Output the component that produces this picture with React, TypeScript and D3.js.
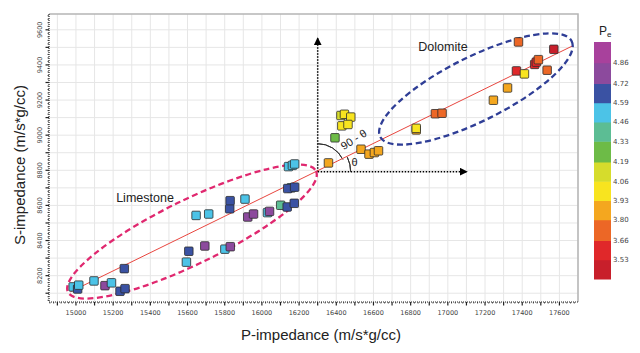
import React from "react";
import * as d3 from "d3";

// ---- data ----
const pImpedance = [
  14985, 15009, 15015, 15097, 15156, 15191, 15237, 15264, 15260, 15594, 15607, 15646,
  15714, 15693, 15801, 15830, 15827, 15829, 15909, 15924, 15955, 16030, 16041, 16101,
  16136, 16174, 16157, 16139, 16176, 16143, 16164, 16176,
  16358, 16393, 16425, 16444, 16478, 16430, 16463, 16533, 16576, 16605, 16627, 16830,
  16830, 16933, 16969, 17245, 17321, 17369, 17412, 17380, 17467, 17476, 17487, 17534, 17570,
];
const sImpedance = [
  8136, 8124, 8146, 8170, 8143, 8159, 8111, 8126, 8240, 8277, 8339, 8543,
  8551, 8369, 8351, 8365, 8581, 8627, 8636, 8534, 8551, 8559, 8566, 8601,
  8591, 8612, 8700, 8696, 8704, 8821, 8828, 8836,
  8842, 8985, 9112, 9119, 9103, 9053, 9061, 8920, 8892, 8901, 8911, 9030,
  9039, 9122, 9125, 9199, 9269, 9366, 9349, 9531, 9403, 9416, 9430, 9370, 9489,
];
const peValues = [
  4.52, 4.65, 4.52, 4.52, 4.8, 4.52, 4.65, 4.65, 4.65, 4.52, 4.65, 4.52,
  4.52, 4.8, 4.52, 4.8, 4.65, 4.65, 4.52, 4.8, 4.8, 4.52, 4.8, 4.4,
  4.65, 4.65, 4.52, 4.65, 4.65, 4.52, 4.52, 4.52,
  3.86, 4.25, 4.12, 4.0, 4.0, 4.0, 4.0, 3.86, 3.86, 3.86, 3.86, 3.86,
  3.98, 3.72, 3.72, 3.86, 3.86, 3.6, 3.98, 3.72, 3.6, 3.6, 3.72, 3.72, 3.47,
];

const peThresholds = [3.53, 3.66, 3.8, 3.93, 4.06, 4.19, 4.33, 4.46, 4.59, 4.72, 4.86];
const peColors = [
  "#c81f2b", "#e0282a", "#ec6726", "#f4a71f", "#f8e41f", "#d6dc2c",
  "#6dbb47", "#5cbd94", "#4cc3e7", "#3a52a3", "#8c4a9d", "#a8419c",
];
const peExtent = [3.4, 5.0];
const peTickLabels = ["3.53", "3.66", "3.80", "3.93", "4.06", "4.19", "4.33", "4.46", "4.59", "4.72", "4.86"];

const xDomain = [14855, 17700];
const yDomain = [8050, 9690];
const xTicks = d3.range(15000, 17601, 200);
const yTicks = d3.range(8200, 9601, 200);
const xGrid = d3.range(14900, 17701, 100);
const yGrid = d3.range(8100, 9601, 100);

// trend line & reference axes (data space)
const fitP = [14970, 17670];
const fitS = [8108, 9508];
const origin = [16300, 8792];
const arrowEnds = { up: 9553, right: 17103 };

// enclosing ellipses: center in data space, radii in px, angle in degrees
const ellipses = [
  { name: "Limestone", cx: 15624, cy: 8451, rx: 138, ry: 32, angle: -26, color: "#e0286f" },
  { name: "Dolomite", cx: 17151, cy: 9263, rx: 107, ry: 32, angle: -26.5, color: "#2f3e96" },
];

export default function App() {
  const W = 640, H = 353;
  const L = 49, R = 578, T = 14, B = 302;
  const x = d3.scaleLinear().domain(xDomain).range([L, R]);
  const y = d3.scaleLinear().domain(yDomain).range([B, T]);
  const color = d3.scaleThreshold<number, string>().domain(peThresholds).range(peColors);
  const cb = d3.scaleLinear().domain(peExtent).range([279, 42]);

  const xMinor = d3.range(14860, 17700, 20);
  const yMinor = d3.range(8060, 9690, 20);

  const ox = x(origin[0]), oy = y(origin[1]);
  const lineAng = Math.atan2(-(y(fitS[1]) - y(fitS[0])), x(fitP[1]) - x(fitP[0]));
  const arc1 = d3.arc()({ innerRadius: 28, outerRadius: 28, startAngle: 0, endAngle: Math.PI / 2 - lineAng } as any);
  const arc2 = d3.arc()({ innerRadius: 33, outerRadius: 33, startAngle: Math.PI / 2 - lineAng, endAngle: Math.PI / 2 } as any);

  const sq = 8.5;
  const tickFont = "DejaVu Sans, Verdana, sans-serif";
  const labelFont = "Liberation Sans, Arial, sans-serif";

  return (
    <svg width={W} height={H} style={{ position: "absolute", left: 0, top: 0, background: "#fff" }}
      xmlns="http://www.w3.org/2000/svg">
      <defs>
        <marker id="arrow" viewBox="0 0 10 10" refX="9" refY="5" markerWidth="8" markerHeight="8"
          orient="auto" markerUnits="userSpaceOnUse">
          <path d="M0,0 L10,5 L0,10 z" fill="#000" />
        </marker>
      </defs>
      <rect x={0} y={0} width={W} height={H} fill="#fff" />
      {/* grid */}
      {xGrid.map((v) => (
        <line key={"gx" + v} x1={x(v)} x2={x(v)} y1={T} y2={B} stroke="#e6e6e6" strokeWidth={1} />
      ))}
      {yGrid.map((v) => (
        <line key={"gy" + v} x1={L} x2={R} y1={y(v)} y2={y(v)} stroke="#e6e6e6" strokeWidth={1} />
      ))}
      {/* top/right border */}
      <path d={`M${L},${T} H${R} V${B}`} fill="none" stroke="#b5b5b5" strokeWidth={1.5} />
      {/* axes */}
      <line x1={L} x2={R} y1={B} y2={B} stroke="#222" strokeWidth={1.2} strokeDasharray="1,1" />
      <line x1={L} x2={L} y1={T} y2={B} stroke="#222" strokeWidth={1.2} strokeDasharray="1,1" />
      {xMinor.map((v) => (
        <line key={"xm" + v} x1={x(v)} x2={x(v)} y1={B} y2={B + (v % 100 === 0 ? 3.5 : 1.5)}
          stroke="#222" strokeWidth={v % 100 === 0 ? 1.2 : 0.8} />
      ))}
      {yMinor.map((v) => (
        <line key={"ym" + v} x1={L} x2={L - (v % 100 === 0 ? 3.5 : 1.5)} y1={y(v)} y2={y(v)}
          stroke="#222" strokeWidth={v % 100 === 0 ? 1.2 : 0.8} />
      ))}
      {xTicks.map((v) => (
        <text key={"xt" + v} x={x(v)} y={315} textAnchor="middle" fontFamily={tickFont}
          fontSize={6.5} fill="#444">{v}</text>
      ))}
      {yTicks.map((v) => (
        <text key={"yt" + v} transform={`translate(${42},${y(v)}) rotate(-90)`} textAnchor="middle"
          fontFamily={tickFont} fontSize={6.5} fill="#444">{v}</text>
      ))}
      <text x={321} y={340} textAnchor="middle" fontFamily={labelFont} fontSize={15} fill="#222">
        P-impedance (m/s*g/cc)
      </text>
      <text transform={`translate(25,165) rotate(-90)`} textAnchor="middle" fontFamily={labelFont}
        fontSize={15} fill="#222">S-impedance (m/s*g/cc)</text>

      {/* reference axes */}
      <line x1={ox} y1={oy} x2={ox} y2={y(arrowEnds.up)} stroke="#000" strokeWidth={1.5}
        strokeDasharray="1.5,1.5" markerEnd="url(#arrow)" />
      <line x1={ox} y1={oy} x2={x(arrowEnds.right)} y2={oy} stroke="#000" strokeWidth={1.5}
        strokeDasharray="1.5,1.5" markerEnd="url(#arrow)" />
      <path d={arc1 || ""} transform={`translate(${ox},${oy})`} fill="none" stroke="#333" strokeWidth={1} />
      <path d={arc2 || ""} transform={`translate(${ox},${oy})`} fill="none" stroke="#333" strokeWidth={1} />
      <text transform={`translate(${ox + 38},${oy - 29}) rotate(-32)`} textAnchor="middle"
        fontFamily={labelFont} fontSize={11} fill="#222">90 - θ</text>
      <text x={ox + 37} y={oy - 6} textAnchor="middle" fontFamily={labelFont} fontSize={11}
        fill="#222">θ</text>

      {/* trend line */}
      <line x1={x(fitP[0])} y1={y(fitS[0])} x2={x(fitP[1])} y2={y(fitS[1])} stroke="#e8463f"
        strokeWidth={1} />

      {/* ellipses */}
      {ellipses.map((e) => (
        <ellipse key={e.name} cx={0} cy={0} rx={e.rx} ry={e.ry}
          transform={`translate(${x(e.cx)},${y(e.cy)}) rotate(${e.angle})`} fill="none"
          stroke={e.color} strokeWidth={2.3} strokeDasharray="6,3.5" />
      ))}
      <text x={145} y={202} textAnchor="middle" fontFamily={labelFont} fontSize={12.5} fill="#222">
        Limestone
      </text>
      <text x={443} y={51} textAnchor="middle" fontFamily={labelFont} fontSize={12.5} fill="#222">
        Dolomite
      </text>

      {/* points */}
      {pImpedance.map((p, i) => (
        <rect key={"pt" + i} x={x(p) - sq / 2} y={y(sImpedance[i]) - sq / 2} width={sq} height={sq}
          rx={1} fill={color(peValues[i])} stroke="#2b2b2b" strokeWidth={0.8} />
      ))}

      {/* colorbar */}
      {peColors.map((c, i) => {
        const lo = i === 0 ? peExtent[0] : peThresholds[i - 1];
        const hi = i === peColors.length - 1 ? peExtent[1] : peThresholds[i];
        return <rect key={"cb" + i} x={594} y={cb(hi)} width={17} height={cb(lo) - cb(hi) + 0.5} fill={c} />;
      })}
      {peThresholds.map((v, i) => (
        <text key={"cbt" + i} x={613} y={cb(v) + 2.5} fontFamily={tickFont} fontSize={7}
          fill="#444">{peTickLabels[i]}</text>
      ))}
      <text x={599} y={34.5} fontFamily={labelFont} fontSize={12} fill="#222">
        P<tspan fontSize={8} dy={2.5}>e</tspan>
      </text>
    </svg>
  );
}
